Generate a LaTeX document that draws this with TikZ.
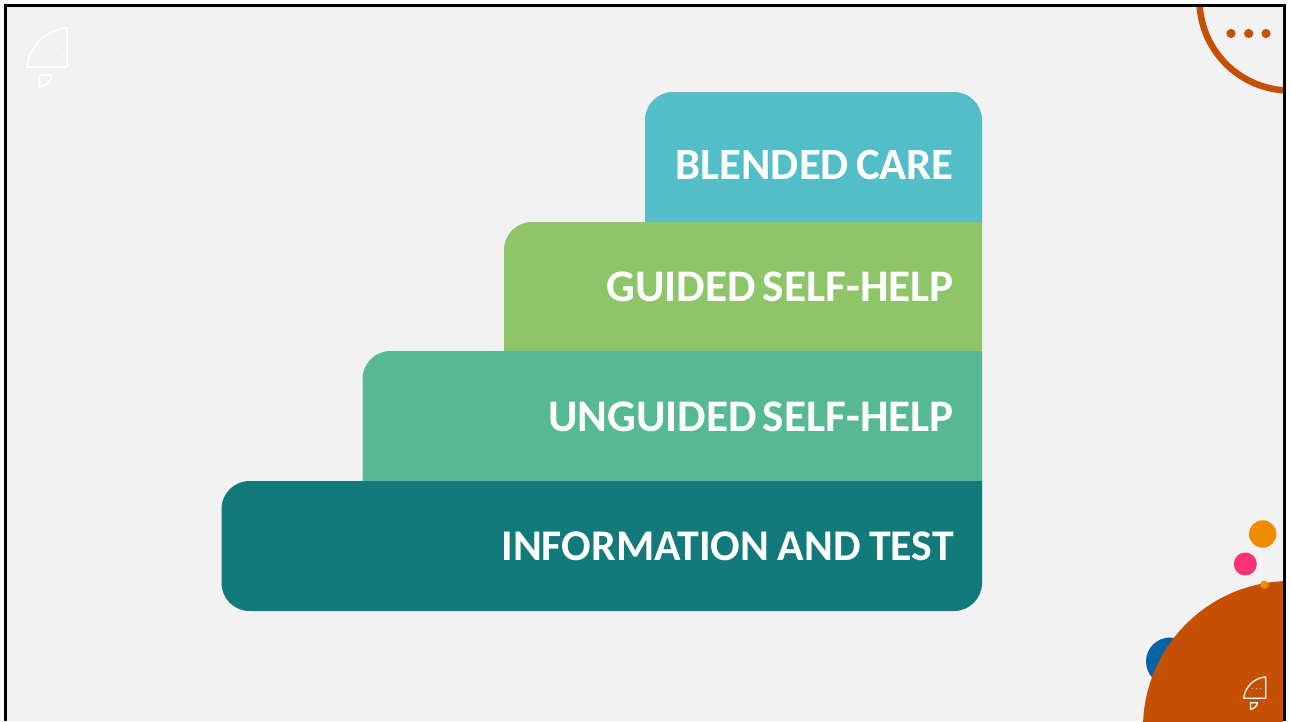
\documentclass[tikz,border=0pt]{standalone}
\usepackage{fontspec}
\setmainfont{Carlito}
\definecolor{pagebg}{HTML}{F2F2F2}
\definecolor{stepa}{HTML}{127A7A}
\definecolor{stepb}{HTML}{56B993}
\definecolor{stepc}{HTML}{8EC569}
\definecolor{stepd}{HTML}{54BEC8}
\definecolor{rust}{HTML}{C55004}
\definecolor{amber}{HTML}{F08C00}
\definecolor{rose}{HTML}{FB3275}
\definecolor{deepblue}{HTML}{0563A8}
\tikzset{
  steplabel/.style={text=white,anchor=base east,inner sep=0pt,font=\bfseries\fontsize{#1}{52}\selectfont},
  shark/.pic={
    \draw[white,line join=round,line cap=round,pic actions] (0,0) -- (0,-39) .. controls (-22,-37) and (-38,-20) .. (-40,0) -- cycle;
    \draw[white,line join=round,line cap=round,pic actions] (-27.5,8) -- (-15,8) .. controls (-15.5,14) and (-21,19) .. (-27.5,20) -- cycle;
    \fill[white] (-24.5,-18) circle (1) (-17,-18) circle (1) (-9.5,-18) circle (1);
  }
}
\begin{document}
\begin{tikzpicture}[x=1pt,y=-1pt]
\useasboundingbox (0,0) rectangle (1291,721);
\fill[white] (0,0) rectangle (1291,721);
\fill[black] (4,4) rectangle (1286,721);
\fill[pagebg] (7,7) rectangle (1283,721);
\begin{scope}
\clip (7,7) rectangle (1283,721);
\draw[rust,line width=6.5pt] (1290,0) circle (90.5);
\fill[rust] (1231,33.5) circle (4.6) (1248.7,33.5) circle (4.6) (1266,33.5) circle (4.6);
\fill[amber] (1262.7,534) circle (13.7);
\fill[rose] (1245.3,564) circle (11.5);
\fill[deepblue] (1170,661.5) circle (24);
\fill[rust] (1290,728) circle (147);
\fill[amber] (1264.3,584.7) circle (4.2);
\end{scope}
\pic[line width=1.9pt] at (67,67) {shark};
\pic[scale=0.55,line width=1.3pt] at (1265.7,698.3) {shark};
% steps
\fill[stepd] (645,222) -- (645,120) arc[start angle=180,end angle=270,radius=28] -- (954,92) arc[start angle=270,end angle=360,radius=28] -- (982,222) -- cycle;
\fill[stepc] (504,351) -- (504,250) arc[start angle=180,end angle=270,radius=28] -- (982,222) -- (982,351) -- cycle;
\fill[stepb] (362.5,481) -- (362.5,379) arc[start angle=180,end angle=270,radius=28] -- (982,351) -- (982,481) -- cycle;
\fill[stepa] (221.5,509) arc[start angle=180,end angle=270,radius=28] -- (982,481) -- (982,583) arc[start angle=0,end angle=90,radius=28] -- (249.5,611) arc[start angle=90,end angle=180,radius=28] -- cycle;
\node[steplabel=44.7] (care) at (954,179) {\spaceskip=7pt BLENDED CARE};
\node[steplabel=45.2] (guided) at (954,301) {\spaceskip=7pt GUIDED SELF-HELP};
\node[steplabel=45.2] (unguided) at (954,431) {\spaceskip=6pt UNGUIDED SELF-HELP};
\node[steplabel=43.8] (info) at (954,560.5) {\spaceskip=8.5pt INFORMATION AND TEST};
\end{tikzpicture}
\end{document}
